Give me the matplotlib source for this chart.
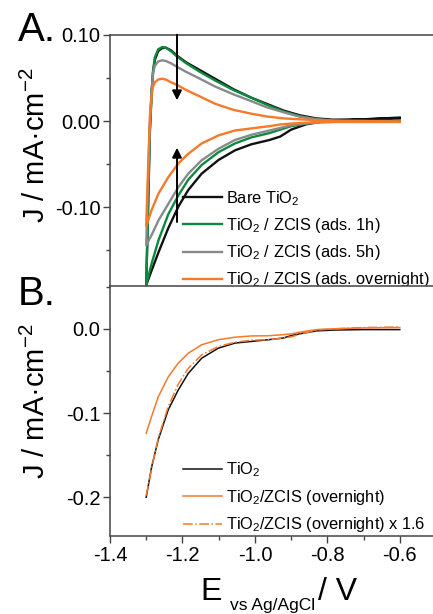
import matplotlib
matplotlib.use('Agg')
import matplotlib.pyplot as plt
import matplotlib.ticker as ticker

plt.rcParams['font.family'] = ['Liberation Sans', 'DejaVu Sans']
plt.rcParams['mathtext.fontset'] = 'custom'
plt.rcParams['mathtext.rm'] = 'Liberation Sans'
plt.rcParams['mathtext.it'] = 'Liberation Sans:italic'
plt.rcParams['axes.unicode_minus'] = False

# panel A: cyclic voltammograms, cathodic sweep (-0.6 -> -1.3) then anodic sweep (-1.3 -> -0.6)
E_cath = [-0.60, -0.70, -0.78, -0.82, -0.86, -0.90, -0.93, -0.96, -1.01, -1.055, -1.10,
          -1.147, -1.184, -1.211, -1.239, -1.266, -1.285, -1.300]
E_anod = [-1.300, -1.296, -1.290, -1.285, -1.281, -1.276, -1.267, -1.256, -1.246, -1.232,
          -1.216, -1.19, -1.152, -1.11, -1.06, -1.01, -0.968, -0.92, -0.876, -0.83, -0.784,
          -0.70, -0.60]

bare_cath = [0.003, 0.002, 0.0, -0.001, -0.004, -0.010, -0.018, -0.022, -0.027, -0.034, -0.045,
             -0.061, -0.080, -0.099, -0.124, -0.152, -0.173, -0.190]
bare_anod = [-0.190, -0.120, -0.010, 0.035, 0.057, 0.071, 0.081, 0.0845, 0.085, 0.082, 0.076,
             0.068, 0.059, 0.049, 0.037, 0.027, 0.020, 0.012, 0.0066, 0.003, 0.0015, 0.002, 0.004]
ads1h_cath = [0.0, 0.0, -0.0005, -0.001, -0.003, -0.006, -0.010, -0.014, -0.019, -0.026, -0.036,
              -0.051, -0.068, -0.086, -0.108, -0.138, -0.165, -0.190]
ads1h_anod = [-0.190, -0.125, -0.015, 0.030, 0.059, 0.074, 0.083, 0.0857, 0.085, 0.081, 0.075,
              0.067, 0.057, 0.047, 0.036, 0.027, 0.019, 0.011, 0.0055, 0.002, 0.0005, 0.0, 0.0]
ads5h_cath = [-0.001, -0.001, -0.001, -0.0015, -0.003, -0.005, -0.008, -0.011, -0.016, -0.022,
              -0.032, -0.0455, -0.061, -0.0765, -0.096, -0.115, -0.132, -0.144]
ads5h_anod = [-0.144, -0.085, -0.005, 0.035, 0.056, 0.064, 0.069, 0.0703, 0.0695, 0.067, 0.063,
              0.057, 0.049, 0.040, 0.031, 0.023, 0.016, 0.010, 0.005, 0.002, 0.0005, 0.0, -0.001]
adsnight_cath = [-0.001, -0.001, -0.001, -0.0015, -0.002, -0.003, -0.004, -0.006, -0.0086, -0.011,
                 -0.0166, -0.026, -0.038, -0.049, -0.065, -0.084, -0.103, -0.122]
adsnight_anod = [-0.122, -0.070, 0.005, 0.030, 0.040, 0.045, 0.048, 0.049, 0.048, 0.045, 0.042,
                 0.036, 0.0285, 0.020, 0.013, 0.0085, 0.0053, 0.003, 0.002, 0.001, 0.0, -0.0005,
                 -0.001]

# panel B: linear sweeps
E_lsv = [-1.30, -1.285, -1.267, -1.239, -1.212, -1.184, -1.147, -1.101, -1.055, -1.009, -0.963,
         -0.922, -0.899, -0.876, -0.83, -0.78, -0.70, -0.60]
tio2_lsv = [-0.200, -0.164, -0.132, -0.096, -0.073, -0.053, -0.035, -0.023, -0.017, -0.015,
            -0.013, -0.011, -0.008, -0.006, -0.0025, -0.0015, -0.001, -0.001]
night_lsv = [-0.124, -0.104, -0.081, -0.057, -0.041, -0.029, -0.019, -0.013, -0.010, -0.0085,
             -0.0083, -0.007, -0.006, -0.004, -0.001, 0.0, 0.001, 0.0015]
night_x16_lsv = [-0.198, -0.166, -0.130, -0.092, -0.066, -0.047, -0.031, -0.021, -0.016, -0.0135,
                 -0.013, -0.011, -0.0095, -0.0065, -0.0015, 0.0, 0.0015, 0.002]

labels_a = ['Bare TiO$_2$', 'TiO$_2$ / ZCIS (ads. 1h)', 'TiO$_2$ / ZCIS (ads. 5h)',
            'TiO$_2$ / ZCIS (ads. overnight)']
labels_b = ['TiO$_2$', 'TiO$_2$/ZCIS (overnight)', 'TiO$_2$/ZCIS (overnight) x 1.6']

BLACK = '#111111'
GREEN = '#0b8a3e'
GRAY = '#8a8a8a'
ORANGE = '#f7792a'
SPINE = '#444444'


def style_axis(ax):
    for side in ['left', 'top', 'bottom']:
        ax.spines[side].set_color(SPINE)
        ax.spines[side].set_linewidth(1.1)
    ax.spines['right'].set_visible(False)
    ax.tick_params(which='major', direction='out', length=5, width=1, color=SPINE,
                   labelsize=14.5, pad=2)
    ax.tick_params(which='minor', direction='out', length=3, width=1, color=SPINE)


fig = plt.figure(figsize=(4.33, 6.14), dpi=100)
ax_a = fig.add_axes([0.254, 0.5337, 0.753, 0.4098])
ax_b = fig.add_axes([0.254, 0.127, 0.753, 0.4067])

curves = [(bare_cath, bare_anod, BLACK), (ads1h_cath, ads1h_anod, GREEN),
          (ads5h_cath, ads5h_anod, GRAY), (adsnight_cath, adsnight_anod, ORANGE)]
for (cath, anod, col), lab in zip(curves, labels_a):
    ax_a.plot(E_cath + E_anod, cath + anod, color=col, lw=1.7, label=lab)

ax_a.set_xlim(-1.4, -0.5)
ax_a.set_ylim(-0.1915, 0.10)
ax_a.yaxis.set_major_locator(ticker.FixedLocator([-0.10, 0.0, 0.10]))
ax_a.yaxis.set_minor_locator(ticker.FixedLocator([-0.15, -0.05, 0.05]))
ax_a.yaxis.set_major_formatter(ticker.FormatStrFormatter('%.2f'))
ax_a.set_xticks([])
style_axis(ax_a)
ax_a.spines['bottom'].set_visible(False)

arrow = dict(arrowstyle='-|>', color='k', lw=1.4, mutation_scale=14, shrinkA=0, shrinkB=0)
ax_a.annotate('', xy=(-1.215, 0.024), xytext=(-1.215, 0.10), arrowprops=arrow)
ax_a.annotate('', xy=(-1.215, -0.031), xytext=(-1.215, -0.117), arrowprops=arrow)

ax_a.legend(loc='upper left', bbox_to_anchor=(0.224, 0.386), frameon=False, fontsize=11.8,
            handlelength=2.35, handletextpad=0.3, labelspacing=0.5, borderaxespad=0,
            borderpad=0)

ax_b.plot(E_lsv, tio2_lsv, color=BLACK, lw=1.1, label=labels_b[0])
ax_b.plot(E_lsv, night_lsv, color=ORANGE, lw=1.1, label=labels_b[1])
ax_b.plot(E_lsv, night_x16_lsv, color=ORANGE, lw=1.1, ls='-.', label=labels_b[2])
ax_b.set_xlim(-1.4, -0.5)
ax_b.set_ylim(-0.246, 0.0504)
ax_b.xaxis.set_major_locator(ticker.FixedLocator([-1.4, -1.2, -1.0, -0.8, -0.6]))
ax_b.xaxis.set_minor_locator(ticker.FixedLocator([-1.3, -1.1, -0.9, -0.7, -0.5]))
ax_b.xaxis.set_major_formatter(ticker.FormatStrFormatter('%.1f'))
ax_b.yaxis.set_major_locator(ticker.FixedLocator([-0.2, -0.1, 0.0]))
ax_b.yaxis.set_minor_locator(ticker.FixedLocator([-0.15, -0.05, 0.05]))
ax_b.yaxis.set_major_formatter(ticker.FormatStrFormatter('%.1f'))
style_axis(ax_b)
ax_b.legend(loc='upper left', bbox_to_anchor=(0.224, 0.302), frameon=False, fontsize=11.8,
            handlelength=2.35, handletextpad=0.3, labelspacing=0.52, borderaxespad=0,
            borderpad=0)

# y labels and panel letters
ylab = 'J / mA\u00b7cm$^{-2}$'
fig.text(36 / 433, 1 - 145 / 614, ylab, rotation=90, ha='center', va='center', fontsize=21)
fig.text(36 / 433, 1 - 401 / 614, ylab, rotation=90, ha='center', va='center', fontsize=21)
fig.text(18 / 433, 1 - 41 / 614, 'A.', fontsize=29, va='baseline')
fig.text(18 / 433, 1 - 305 / 614, 'B.', fontsize=29, va='baseline')

# x label: E with small subscript
fig.text(200 / 433, 1 - 600 / 614, 'E', fontsize=23, va='baseline')
fig.text(230 / 433, 1 - 610 / 614, 'vs Ag/AgCl', fontsize=12.5, va='baseline')
fig.text(318 / 433, 1 - 600 / 614, '/ V', fontsize=23, va='baseline')

plt.savefig('out.png', dpi=100)
